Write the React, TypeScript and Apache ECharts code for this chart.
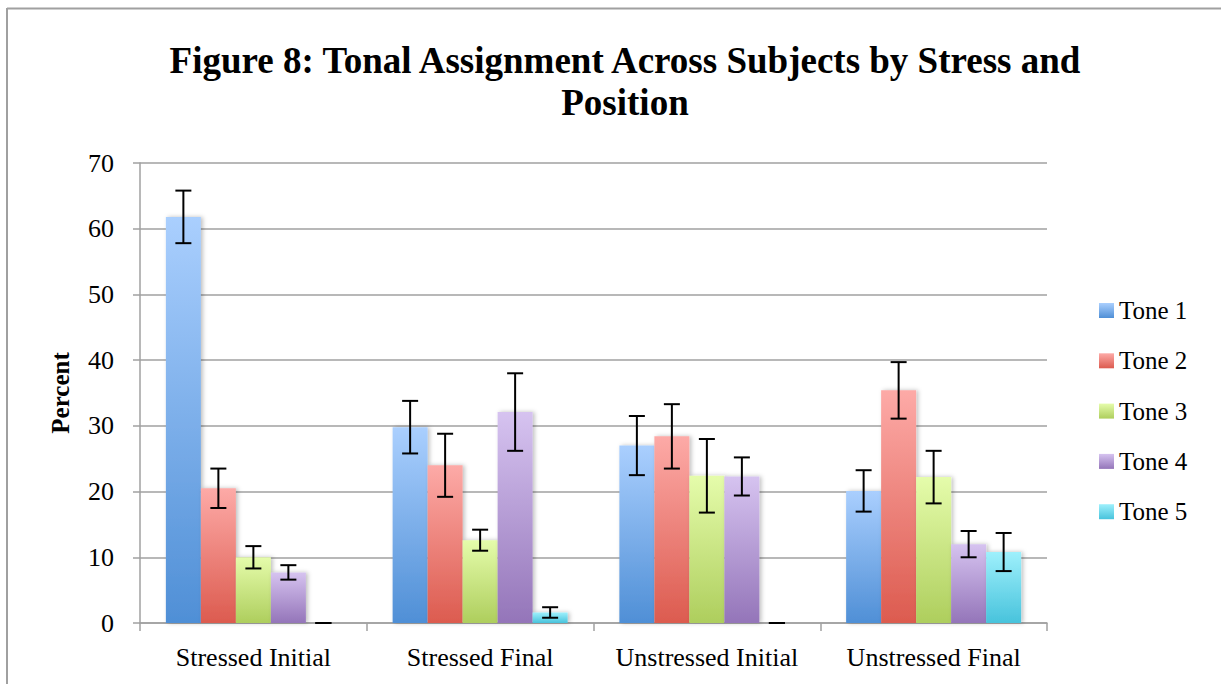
import React, { useEffect, useRef } from "react";
import * as echarts from "echarts";

const categories = ["Stressed Initial", "Stressed Final", "Unstressed Initial", "Unstressed Final"];
const toneNames = ["Tone 1", "Tone 2", "Tone 3", "Tone 4", "Tone 5"];
const tone1 = [61.8, 29.8, 27.0, 20.1];
const tone2 = [20.5, 24.0, 28.4, 35.4];
const tone3 = [10.0, 12.6, 22.4, 22.2];
const tone4 = [7.7, 32.1, 22.3, 12.0];
const tone5 = [0, 1.6, 0, 10.8];
const err1 = [4.0, 4.0, 4.5, 3.15];
const err2 = [3.0, 4.8, 4.9, 4.3];
const err3 = [1.7, 1.6, 5.6, 4.0];
const err4 = [1.1, 5.9, 2.9, 2.0];
const err5 = [0, 0.8, 0, 2.9];
const yTicks = [0, 10, 20, 30, 40, 50, 60, 70];

const values = [tone1, tone2, tone3, tone4, tone5];
const errors = [err1, err2, err3, err4, err5];
const gradients: [string, string][] = [
  ["#aacffe", "#4f8fd6"],
  ["#fdaaa7", "#dc5b4f"],
  ["#e5fcab", "#aece5d"],
  ["#d6c3f0", "#9475b9"],
  ["#9ef0fc", "#48c3dc"],
];

const FONT = "'Liberation Serif', 'Times New Roman', serif";
const BAR_W = 35;

export default function App() {
  const ref = useRef<HTMLDivElement>(null);
  useEffect(() => {
    document.body.style.margin = "0";
    document.body.style.overflow = "hidden";
    if (!ref.current) return;
    const chart = echarts.init(ref.current, null, { renderer: "svg" });

    const barSeries = toneNames.map((name, i) => ({
      name,
      type: "bar",
      barWidth: BAR_W,
      barGap: "0%",
      data: values[i],
      itemStyle: {
        color: new echarts.graphic.LinearGradient(0, 0, 0, 1, [
          { offset: 0, color: gradients[i][0] },
          { offset: 1, color: gradients[i][1] },
        ]),
        shadowBlur: 4,
        shadowOffsetX: 2,
        shadowColor: "rgba(0,0,0,0.25)",
      },
      z: 2,
    }));

    const errSeries = toneNames.map((name, i) => ({
      name: "err" + (i + 1),
      type: "custom",
      z: 5,
      data: values[i].map((v, k) => [k, v, errors[i][k]]),
      renderItem: (params: any, api: any) => {
        const x = api.value(0);
        const v = api.value(1);
        const e = api.value(2);
        const top = api.coord([x, v + e]);
        const bot = api.coord([x, v - e]);
        const cx = top[0] + (i - 2) * BAR_W;
        const hw = 8;
        const style = { stroke: "#000", lineWidth: 2 };
        return {
          type: "group",
          children: [
            { type: "line", shape: { x1: cx, y1: top[1], x2: cx, y2: bot[1] }, style },
            { type: "line", shape: { x1: cx - hw, y1: top[1], x2: cx + hw, y2: top[1] }, style },
            { type: "line", shape: { x1: cx - hw, y1: bot[1], x2: cx + hw, y2: bot[1] }, style },
          ],
        };
      },
    }));

    chart.setOption({
      animation: false,
      backgroundColor: "#fff",
      title: {
        text: "Figure 8: Tonal Assignment Across Subjects by Stress and\nPosition",
        left: 620,
        top: 34,
        textAlign: "center",
        textStyle: {
          fontFamily: FONT,
          fontWeight: "bold",
          fontSize: 37,
          lineHeight: 42,
          color: "#000",
        },
      },
      legend: {
        data: toneNames,
        orient: "vertical",
        left: 1094,
        top: 293,
        itemWidth: 15,
        itemHeight: 15,
        itemGap: 25.3,
        icon: "rect",
        textStyle: { fontFamily: FONT, fontSize: 25, lineHeight: 25, color: "#000" },
      },
      grid: { left: 140, right: 174, top: 163, bottom: 61, containLabel: false },
      xAxis: {
        type: "category",
        data: categories,
        axisLine: { lineStyle: { color: "#a0a0a0", width: 1.5 } },
        axisTick: { show: true, length: 8, lineStyle: { color: "#a0a0a0", width: 1.5 } },
        axisLabel: { interval: 0, fontFamily: FONT, fontSize: 26, color: "#000", margin: 21 },
      },
      yAxis: {
        type: "value",
        min: yTicks[0],
        max: yTicks[yTicks.length - 1],
        interval: 10,
        name: "Percent",
        nameLocation: "middle",
        nameRotate: 90,
        nameGap: 67,
        nameTextStyle: { fontFamily: FONT, fontSize: 25, fontWeight: "bold", color: "#000" },
        axisLine: { show: true, lineStyle: { color: "#a0a0a0", width: 1.5 } },
        axisTick: { show: true, length: 7, lineStyle: { color: "#a0a0a0", width: 1.5 } },
        axisLabel: { fontFamily: FONT, fontSize: 26, color: "#000", margin: 26 },
        splitLine: { lineStyle: { color: "#a0a0a0", width: 1.5 } },
      },
      graphic: [
        { type: "line", shape: { x1: 7, y1: 8.5, x2: 1221, y2: 8.5 }, style: { stroke: "#a0a0a0", lineWidth: 2 } },
        { type: "line", shape: { x1: 7, y1: 8, x2: 7, y2: 684 }, style: { stroke: "#a0a0a0", lineWidth: 2 } },
      ],
      series: [...barSeries, ...errSeries],
    });
    return () => chart.dispose();
  }, []);
  return <div ref={ref} style={{ width: 1221, height: 684 }} />;
}
